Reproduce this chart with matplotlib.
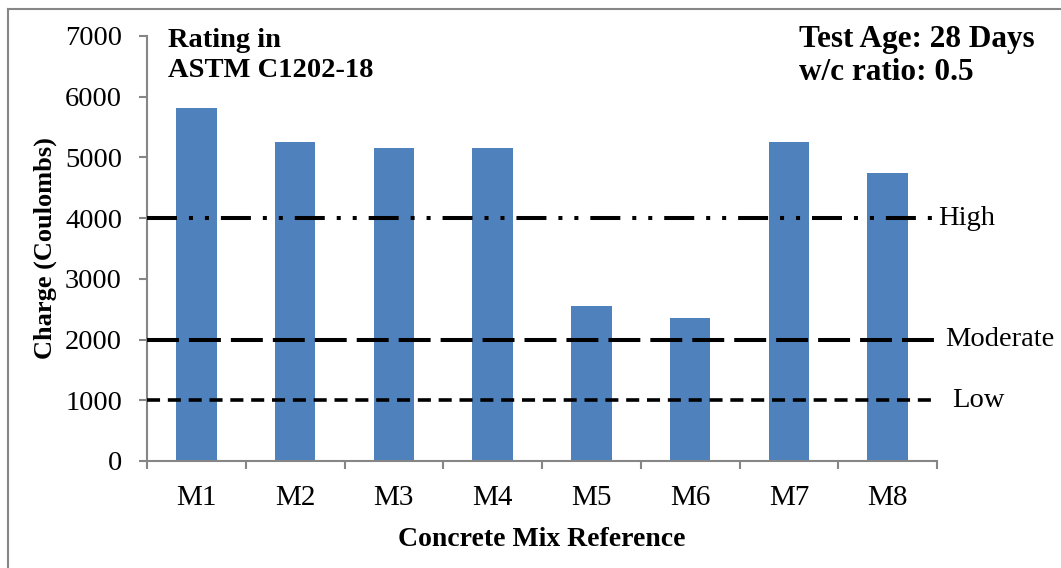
import matplotlib
matplotlib.use("Agg")
from matplotlib import pyplot as plt
from matplotlib.lines import Line2D
import matplotlib.transforms as mtransforms

plt.rcParams['font.family'] = ['Liberation Serif', 'DejaVu Serif']
plt.rcParams['lines.scale_dashes'] = False

# data
mixes = ['M1', 'M2', 'M3', 'M4', 'M5', 'M6', 'M7', 'M8']
charge = [5820, 5260, 5150, 5160, 2560, 2350, 5250, 4750]
rating_levels = [4000, 2000, 1000]
rating_names = ['High', 'Moderate', 'Low']

GRAY = '#868686'
BLUE = '#4F81BD'

fig = plt.figure(figsize=(10.61, 5.68), dpi=100)
ax = fig.add_axes([147 / 1061, 1 - 461 / 568, (937 - 147) / 1061, (461 - 36) / 568])

xs = list(range(len(mixes)))
ax.bar(xs, charge, width=0.41, color=BLUE, zorder=2)

# rating threshold lines (px -> pt: 0.72)
styles = [
    (0, (21.6, 8.6, 2.9, 8.6, 2.9, 8.6)),  # dash-dot-dot
    (0, (23.0, 7.2)),                      # long dash
    (0, (9.4, 5.6)),                       # short dash
]
widths = [2.9, 2.9, 2.6]
for lvl, ls, lw in zip(rating_levels, styles, widths):
    ax.axhline(lvl, color='black', linestyle=ls, linewidth=lw, zorder=3)

trans = mtransforms.blended_transform_factory(ax.transAxes, ax.transData)
label_x = [1.002, 1.010, 1.019]
for lvl, name, lx in zip(rating_levels, rating_names, label_x):
    ax.text(lx, lvl, name, transform=trans, fontsize=20.5, va='center', ha='left',
            clip_on=False)

ax.set_ylim(0, 7000)
ax.set_xlim(-0.5, len(mixes) - 0.5)
ax.set_yticks(range(0, 7001, 1000))
ax.set_xticks(xs)
ax.set_xticklabels(mixes)
ax.set_xticks([i - 0.5 for i in range(len(mixes) + 1)], minor=True)
ax.tick_params(axis='x', which='major', length=0, labelsize=21, pad=17)
ax.tick_params(axis='x', which='minor', length=6, width=1.5, color=GRAY, direction='out')
ax.tick_params(axis='y', length=6, width=1.5, color=GRAY, labelsize=20.5, pad=12)

for s in ['top', 'right']:
    ax.spines[s].set_visible(False)
for s in ['left', 'bottom']:
    ax.spines[s].set_color(GRAY)
    ax.spines[s].set_linewidth(1.5)

ax.set_ylabel('Charge (Coulombs)', fontsize=19, fontweight='bold', labelpad=6)
ax.set_xlabel('Concrete Mix Reference', fontsize=20, fontweight='bold', labelpad=12)

fig.text(168 / 1061, 1 - 28 / 568, 'Rating in\nASTM C1202-18', fontsize=20.5,
         fontweight='bold', va='top', ha='left', linespacing=1.25)
fig.text(799 / 1061, 1 - 25 / 568, 'Test Age: 28 Days\nw/c ratio: 0.5', fontsize=22.5,
         fontweight='bold', va='top', ha='left', linespacing=1.2)

# outer frame (left and top edges visible)
fig.add_artist(Line2D([8 / 1061, 8 / 1061], [0, 1 - 9 / 568], color=GRAY, lw=1.5,
                      transform=fig.transFigure))
fig.add_artist(Line2D([8 / 1061, 1], [1 - 9 / 568, 1 - 9 / 568], color=GRAY, lw=1.5,
                      transform=fig.transFigure))

fig.savefig('out.png', dpi=100)
